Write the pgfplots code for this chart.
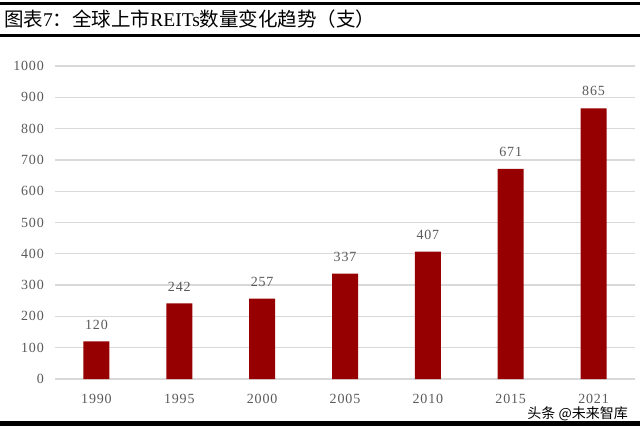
\documentclass[border=0pt]{standalone}
\usepackage{pgfplots}
\pgfplotsset{compat=1.18}
\usepackage{fontspec}
\setmainfont{Liberation Serif}
\newfontfamily\cjk{Noto Sans CJK SC}
\definecolor{barred}{RGB}{150,0,0}
\definecolor{tickgray}{RGB}{90,90,90}
\definecolor{gridgray}{RGB}{217,217,217}
\begin{document}
\begin{tikzpicture}[x=1pt,y=1pt]
\path[use as bounding box] (0,0) rectangle (640,426);
\fill[black] (0,421.3) rectangle (640,423.5);
\fill[black] (0,389) rectangle (640,391.5);
\fill[black] (0,0) rectangle (640,5);
\node[anchor=west, inner sep=0pt] at (4,407) {\fontsize{19.5}{22}\selectfont{\cjk 图表}7{\cjk ：全球上市}REITs{\cjk 数量变化趋势（支）}};
\begin{axis}[
  at={(55pt,47pt)}, anchor=south west,
  scale only axis, width=580pt, height=313pt,
  xmin=-0.5, xmax=6.5, ymin=0, ymax=1000,
  ytick={0,100,...,1000},
  xtick={0,...,6},
  xticklabels={1990,1995,2000,2005,2010,2015,2021},
  /pgf/number format/assume math mode=true,
  /pgf/number format/1000 sep={},
  axis line style={draw=none},
  tick style={draw=none},
  ymajorgrids,
  grid style={gridgray, line width=1.3pt},
  ybar, bar width=26pt,
  ticklabel style={font=\fontsize{14}{16}\selectfont\addfontfeatures{LetterSpace=6}, text=tickgray},
  yticklabel style={anchor=east, inner sep=0pt, xshift=-11pt},
  xticklabel style={anchor=north, inner sep=0pt, yshift=-11pt},
  nodes near coords,
  nodes near coords style={font=\fontsize{14}{16}\selectfont\addfontfeatures{LetterSpace=6}, text=tickgray, anchor=south, inner sep=0pt, yshift=12pt},
  clip=false,
]
\addplot[fill=barred, draw=none] coordinates {(0,120) (1,242) (2,257) (3,337) (4,407) (5,671) (6,865)};
\end{axis}
\node[anchor=base east, inner sep=0pt, text height=10pt, text depth=0pt] at (628,7.5) {\fontsize{14}{16}\selectfont\cjk 头条 @未来智库};
\end{tikzpicture}
\end{document}
